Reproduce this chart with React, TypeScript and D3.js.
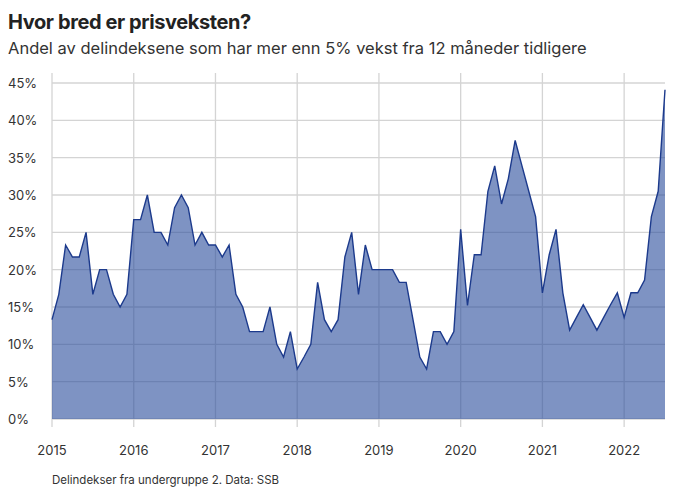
import * as React from "react";
import * as d3 from "d3";

const startYear = 2015;
const values = [
  13.3, 16.7, 23.3, 21.7, 21.7, 25, 16.7, 20, 20, 16.7, 15, 16.7,
  26.7, 26.7, 30, 25, 25, 23.3, 28.3, 30, 28.3, 23.3, 25, 23.3,
  23.3, 21.7, 23.3, 16.7, 15, 11.7, 11.7, 11.7, 15, 10, 8.3, 11.7,
  6.7, 8.3, 10, 18.3, 13.3, 11.7, 13.3, 21.7, 25, 16.7, 23.3, 20,
  20, 20, 20, 18.3, 18.3, 13.3, 8.3, 6.7, 11.7, 11.7, 10, 11.7,
  25.4, 15.2, 22, 22, 30.5, 33.9, 28.8, 32.2, 37.3, 33.9, 30.5, 27.1,
  16.9, 22, 25.4, 16.9, 11.9, 13.6, 15.3, 13.6, 11.9, 13.6, 15.3, 16.9,
  13.6, 16.9, 16.9, 18.6, 27.1, 30.5, 44.1,
];
const yTicks = [0, 5, 10, 15, 20, 25, 30, 35, 40, 45];
const xYears = [2015, 2016, 2017, 2018, 2019, 2020, 2021, 2022];

const W = 680, H = 501;
const m = { left: 52, right: 15, top: 83, bottom: 82 };
const font = "Inter, 'Noto Sans', sans-serif";

export default function App() {
  const x = d3.scaleLinear().domain([0, values.length - 1]).range([m.left, W - m.right]);
  const xm = (yr: number) => x((yr - startYear) * 12);
  const y = d3.scaleLinear().domain([0, 45]).range([H - m.bottom, m.top]);
  const area = d3.area<number>().x((_, i) => x(i)).y0(y(0)).y1(d => y(d));
  const line = d3.line<number>().x((_, i) => x(i)).y(d => y(d));
  return (
    <svg width={W} height={H} style={{ position: "absolute", left: 0, top: 0 }} fontFamily={font}>
      <rect width={W} height={H} fill="#fff" />
      <text x={8} y={29} fontSize={20} fontWeight={700} fill="#222" letterSpacing={-0.4}>Hvor bred er prisveksten?</text>
      <text x={8} y={54} fontSize={16.5} fill="#333">Andel av delindeksene som har mer enn 5% vekst fra 12 måneder tidligere</text>
      {yTicks.map(t => (
        <g key={t}>
          <line x1={m.left} x2={W - m.right} y1={y(t)} y2={y(t)} stroke="#d4d4d4" strokeWidth={1.3} />
          <text x={8} y={y(t) + 5} fontSize={13} fill="#333">{t}%</text>
        </g>
      ))}
      {xYears.map(yr => (
        <g key={yr}>
          <line x1={xm(yr)} x2={xm(yr)} y1={m.top - 10} y2={y(0) + 8} stroke="#d4d4d4" strokeWidth={1.3} />
          <text x={xm(yr)} y={455} fontSize={13} fill="#333" textAnchor="middle">{yr}</text>
        </g>
      ))}
      <path d={area(values)!} fill="rgba(40,75,155,0.6)" />
      <path d={line(values)!} fill="none" stroke="#1c3a8c" strokeWidth={1.4} />
      <text x={52} y={484} fontSize={11.5} fill="#333">Delindekser fra undergruppe 2. Data: SSB</text>
    </svg>
  );
}
